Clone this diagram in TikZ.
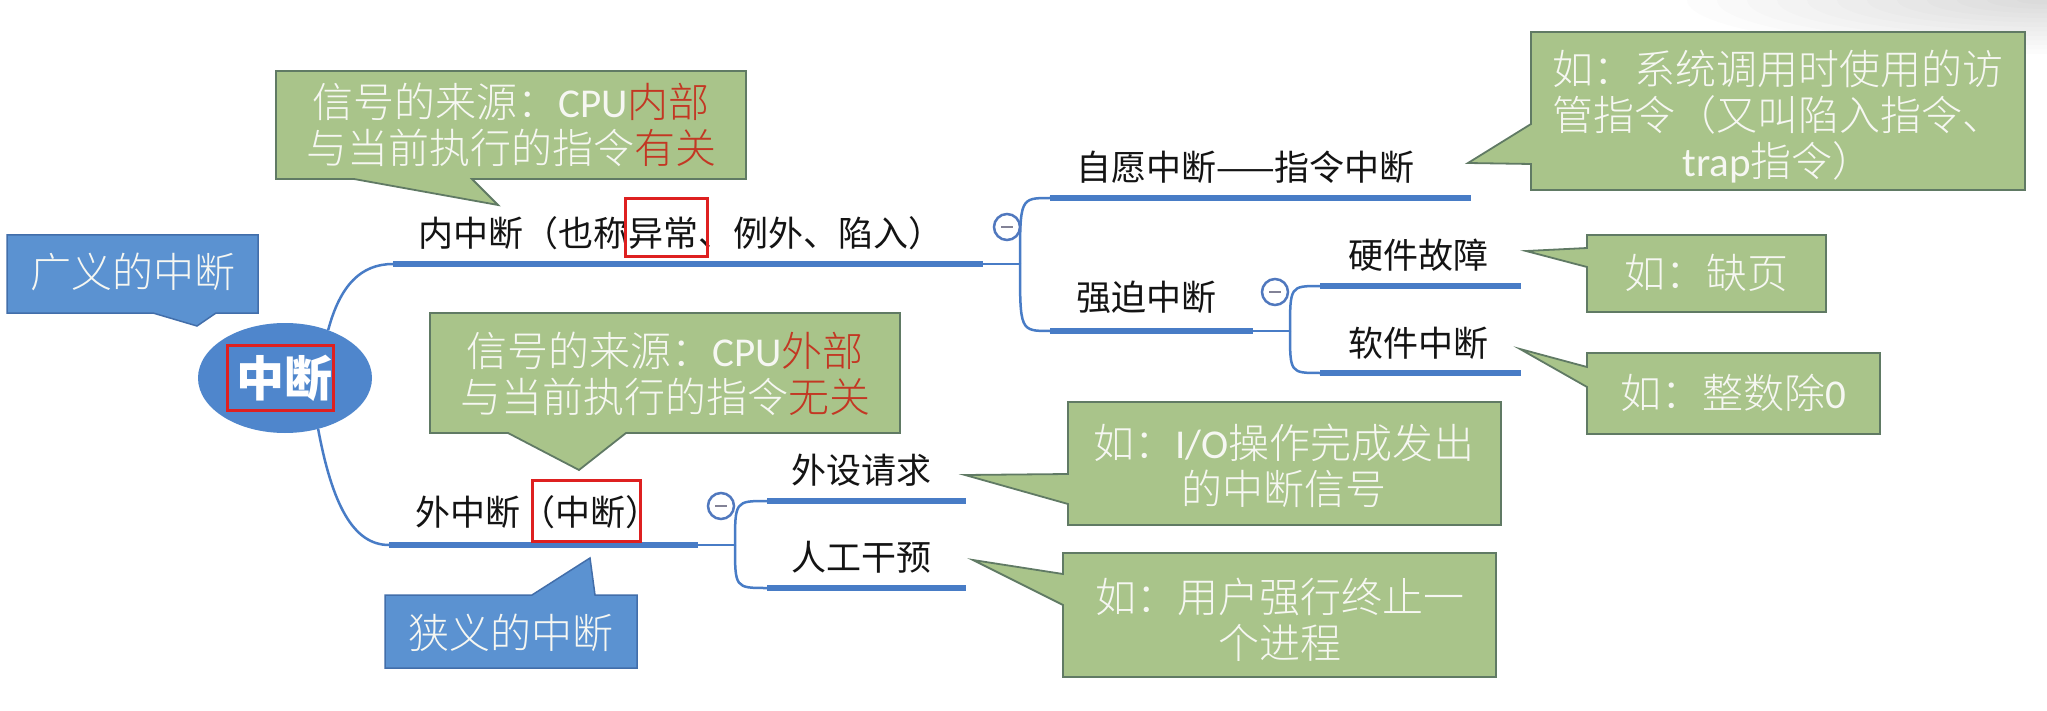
\documentclass[tikz,border=0pt]{standalone}
\usepackage{fontspec}
\setmainfont{Noto Sans CJK SC}
\IfFontExistsTF{Noto Sans CJK SC Light}
  {\newfontfamily\callfont{Noto Sans CJK SC Light}}
  {\IfFontExistsTF{Noto Sans CJK SC DemiLight}
    {\newfontfamily\callfont{Noto Sans CJK SC DemiLight}}
    {\newfontfamily\callfont{Noto Sans CJK SC}}}
\newfontfamily\lat{Carlito}
\usetikzlibrary{shapes.geometric}
\definecolor{cgreen}{RGB}{169,196,138}
\definecolor{cgreenb}{RGB}{96,122,100}
\definecolor{cblue}{RGB}{91,146,209}
\definecolor{cblueb}{RGB}{66,110,170}
\definecolor{croot}{RGB}{79,134,204}
\definecolor{cline}{RGB}{72,124,198}
\definecolor{cred}{RGB}{222,32,32}
\definecolor{ctxtred}{RGB}{195,55,35}
\definecolor{cwhite}{RGB}{246,247,242}
\definecolor{cfold}{RGB}{80,120,190}
\definecolor{cminus}{RGB}{130,130,150}
\newcommand\hl[1]{\textcolor{ctxtred}{#1}}
\begin{document}
\begin{tikzpicture}[x=1pt,y=-1pt,
  greencall/.style={fill=cgreen, draw=cgreenb, line width=1.8pt},
  bluecall/.style={fill=cblue, draw=cblueb, line width=1.5pt},
  calltext/.style={text=cwhite, align=center, inner sep=0pt, font=\callfont\fontsize{41}{46}\selectfont},
  topiclabel/.style={anchor=west, inner sep=0pt, text=black!92, font=\fontsize{35}{40}\selectfont},
  topicline/.style={draw=cline, line width=6.5pt},
  linkline/.style={draw=cline, line width=2.5pt},
  redbox/.style={draw=cred, line width=3pt},
  fold/.style={circle, draw=cfold, line width=2.5pt, minimum size=26pt, inner sep=0pt, fill=white},
]
\useasboundingbox (0,0) rectangle (2047,711);
\fill[white] (0,0) rectangle (2047,711);
% faint grey shading in the top right corner
\begin{scope}
  \clip (0,0) rectangle (2047,711);
  \foreach \r in {1,...,12}{
    \fill[black, opacity=0.011] (2047,0) ellipse ({30*\r pt} and {4.5*\r pt});
  }
\end{scope}

% ---------- coordinates of topic underlines ----------
\coordinate (inS) at (393,264);  \coordinate (inE) at (983,264);  \coordinate (inJ) at (1020,264);
\coordinate (vS) at (1050,198);  \coordinate (vE) at (1471,198);
\coordinate (fS) at (1050,331);  \coordinate (fE) at (1253,331);  \coordinate (fJ) at (1290,331);
\coordinate (hS) at (1320,286);  \coordinate (hE) at (1521,286);
\coordinate (sS) at (1320,373);  \coordinate (sE) at (1521,373);
\coordinate (outS) at (389,545); \coordinate (outE) at (698,545); \coordinate (outJ) at (735,545);
\coordinate (pS) at (767,501);   \coordinate (pE) at (966,501);
\coordinate (mS) at (767,588);   \coordinate (mE) at (966,588);

% ---------- root ----------
\node[ellipse, fill=croot, minimum width=174pt, minimum height=110pt, inner sep=0pt] (root) at (285,378) {};
\node[text=white, inner sep=0pt, font=\fontsize{48}{50}\selectfont\bfseries] (rootT) at (284,378) {中断};
\draw[redbox] (227,345) rectangle (333,410);

% ---------- connectors ----------
\draw[linkline] (root.48) .. controls +(12,-45) and +(-32,0) .. (inS);
\draw[linkline] (root.-57) .. controls +(14,75) and +(-36,0) .. (outS);
\draw[topicline] (inS) -- (inE);
\draw[linkline] (inE) -- (inJ);
\draw[linkline] (inJ) .. controls (inJ |- vS) .. (vS);
\draw[linkline] (inJ) .. controls (inJ |- fS) .. (fS);
\draw[topicline] (vS) -- (vE);
\draw[topicline] (fS) -- (fE);
\draw[linkline] (fE) -- (fJ);
\draw[linkline] (fJ) .. controls (fJ |- hS) .. (hS);
\draw[linkline] (fJ) .. controls (fJ |- sS) .. (sS);
\draw[topicline] (hS) -- (hE);
\draw[topicline] (sS) -- (sE);
\draw[topicline] (outS) -- (outE);
\draw[linkline] (outE) -- (outJ);
\draw[linkline] (outJ) .. controls (outJ |- pS) .. (pS);
\draw[linkline] (outJ) .. controls (outJ |- mS) .. (mS);
\draw[topicline] (pS) -- (pE);
\draw[topicline] (mS) -- (mE);

% ---------- fold icons ----------
\node[fold] (fold1) at (1007,227) {\textcolor{cminus}{\rule{12pt}{2.5pt}}};
\node[fold] (fold2) at (1275,292) {\textcolor{cminus}{\rule{12pt}{2.5pt}}};
\node[fold] (fold3) at (721,506) {\textcolor{cminus}{\rule{12pt}{2.5pt}}};

% ---------- topic labels ----------
\node[topiclabel] (inT) at (418,233) {内中断（也称异常、例外、陷入）};
\draw[redbox] (625,199) rectangle (707,257);
\node[topiclabel] (vT) at (1076,167) {自愿中断——指令中断};
\node[topiclabel] (fT) at (1076,297) {强迫中断};
\node[topiclabel] (hT) at (1348,255) {硬件故障};
\node[topiclabel] (sT) at (1348,343) {软件中断};
\node[topiclabel] (outT) at (415,512) {外中断（中断）};
\draw[redbox] (532,480) rectangle (640,541);
\node[topiclabel] (pT) at (791,470) {外设请求};
\node[topiclabel] (mT) at (791,557) {人工干预};

% ---------- callouts ----------
\path[greencall] (276,71) -- (746,71) -- (746,179) -- (472,179) -- (498,205) -- (354,179) -- (276,179) -- cycle;
\node[calltext] (cIn) at (511,125) {信号的来源：{\lat CPU}\hl{内部}\\与当前执行的指令\hl{有关}};

\path[greencall] (430,313) -- (900,313) -- (900,433) -- (626,433) -- (579,470) -- (508,433) -- (430,433) -- cycle;
\node[calltext] (cOut) at (665,374) {信号的来源：{\lat CPU}\hl{外部}\\与当前执行的指令\hl{无关}};

\path[greencall] (1531,32) -- (2025,32) -- (2025,190) -- (1531,190) -- (1531,164) -- (1468,163) -- (1531,124) -- cycle;
\node[calltext] (cTrap) at (1778,117) {如：系统调用时使用的访\\管指令（又叫陷入指令、\\{\lat trap}指令）};

\path[greencall] (1587,235) -- (1826,235) -- (1826,312) -- (1587,312) -- (1587,267) -- (1526,251) -- (1587,248) -- cycle;
\node[calltext] (cPage) at (1706,273) {如：缺页};

\path[greencall] (1587,353) -- (1880,353) -- (1880,434) -- (1587,434) -- (1587,387) -- (1520,349) -- (1587,367) -- cycle;
\node[calltext] (cDiv) at (1733,393) {如：整数除{\lat 0}};

\path[greencall] (1068,402) -- (1501,402) -- (1501,525) -- (1068,525) -- (1068,504) -- (965,475) -- (1068,474) -- cycle;
\node[calltext] (cIO) at (1284,466) {如：{\lat I/O}操作完成发出\\的中断信号};

\path[greencall] (1063,553) -- (1496,553) -- (1496,677) -- (1063,677) -- (1063,605) -- (973,560) -- (1063,574) -- cycle;
\node[calltext] (cUser) at (1280,620) {如：用户强行终止一\\个进程};

\path[bluecall] (7,235) -- (258,235) -- (258,313) -- (216,313) -- (197,326) -- (153,313) -- (7,313) -- cycle;
\node[calltext] (cWide) at (133,272) {广义的中断};

\path[bluecall] (385,595) -- (532,595) -- (590,558) -- (595,595) -- (637,595) -- (637,668) -- (385,668) -- cycle;
\node[calltext] (cNarrow) at (511,633) {狭义的中断};
\end{tikzpicture}
\end{document}
